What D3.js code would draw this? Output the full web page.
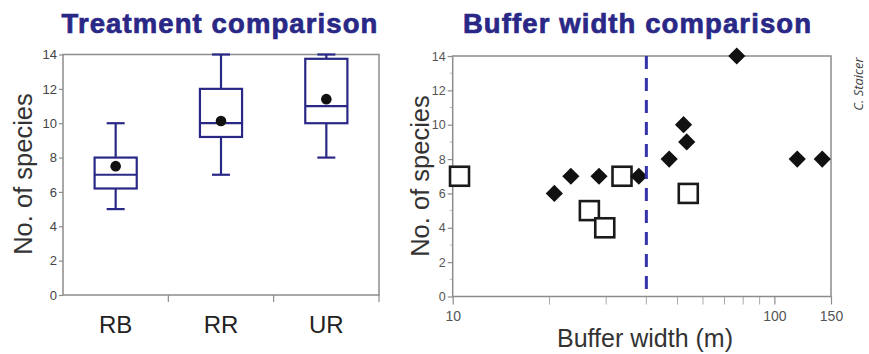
<!DOCTYPE html>
<html>
<head>
<meta charset="utf-8">
<script src="https://cdn.jsdelivr.net/npm/d3@7"></script>
<style>
  html, body { margin: 0; padding: 0; background: #fff; }
  svg { display: block; }
</style>
</head>
<body>
<svg id="chart" width="869" height="354"></svg>
<script>
/* Two panels: box plot of species by treatment, and a log-x scatter of
   species vs buffer width with a dashed 40 m reference line. */

// ---- data: treatment comparison (box plots) ----
var categories   = ['RB', 'RR', 'UR'];
var whiskerLow   = [5, 7, 8];
var q1           = [6.2, 9.2, 10];
var median       = [7, 10, 11];
var q3           = [8, 12, 13.75];
var whiskerHigh  = [10, 14, 14];
var means        = [7.5, 10.13, 11.4];

// ---- data: buffer width comparison (scatter) ----
var filledWidth   = [20.7, 23.3, 28.5, 37.9, 47.1, 52.2, 53.4, 76.4, 117.8, 140.9];
var filledSpecies = [6, 7, 7, 7, 8, 10, 9, 14, 8, 8];
var openWidth     = [10.5, 26.6, 29.7, 33.6, 54.0];
var openSpecies   = [7, 5, 4, 7, 6];
var thresholdWidth = 40;

// ---- ticks ----
var yTicks      = [0, 2, 4, 6, 8, 10, 12, 14];
var yMinorTicks = [1, 3, 5, 7, 9, 11, 13];
var xTickLabels = [10, 100, 150];
var xMinorTicks = [20, 30, 40, 50, 60, 70, 80, 90];

var NAVY = '#2a2886';
var FRAME = '#8c8c8c';
var SANS = '"Liberation Sans", Arial, sans-serif';

var svg = d3.select('#chart');
svg.append('rect').attr('width', 869).attr('height', 354).attr('fill', '#fff');

function title(cx, text) {
  svg.append('text')
    .attr('x', cx).attr('y', 33).attr('text-anchor', 'middle')
    .attr('font-family', SANS).attr('font-weight', 'bold')
    .attr('font-size', 27.5).attr('letter-spacing', 1.1)
    .attr('fill', NAVY).attr('stroke', NAVY).attr('stroke-width', 0.7)
    .text(text);
}

function yLabel(cx, cy) {
  svg.append('text')
    .attr('transform', 'translate(' + cx + ',' + cy + ') rotate(-90)')
    .attr('text-anchor', 'middle').attr('dominant-baseline', 'central')
    .attr('font-family', SANS).attr('font-size', 25.5).attr('fill', '#333')
    .text('No. of species');
}

function frame(x0, x1, y0, y1) {
  svg.append('rect')
    .attr('x', x0).attr('y', y0).attr('width', x1 - x0).attr('height', y1 - y0)
    .attr('fill', 'none').attr('stroke', FRAME).attr('stroke-width', 1.5);
}

/* ---- left panel ---------------------------------------------------------- */
(function () {
  var L = 63, R = 379, T = 54.5, B = 295;
  var x = d3.scaleBand().domain(categories).range([L, R]).padding(0);
  var y = d3.scaleLinear().domain([0, 14]).range([B, T]);

  title(220, 'Treatment comparison');
  yLabel(23, 174);

  var yAxis = d3.axisLeft(y).tickValues(yTicks).tickSize(4).tickPadding(2);
  var gy = svg.append('g').attr('transform', 'translate(' + L + ',0)').call(yAxis);
  gy.select('.domain').remove();
  gy.selectAll('line').attr('stroke', FRAME).attr('stroke-width', 1.2);
  gy.selectAll('text').attr('font-family', SANS).attr('font-size', 13).attr('fill', '#444');

  // category boundary ticks under the axis
  svg.append('g').selectAll('line')
    .data(categories.slice(1).concat(['end']))
    .join('line')
    .attr('x1', function (d, i) { return x(categories[0]) + (i + 1) * x.bandwidth(); })
    .attr('x2', function (d, i) { return x(categories[0]) + (i + 1) * x.bandwidth(); })
    .attr('y1', B).attr('y2', B + 7)
    .attr('stroke', FRAME).attr('stroke-width', 1.2);

  frame(L, R, T, B);

  svg.append('g').selectAll('text').data(categories).join('text')
    .attr('x', function (d) { return x(d) + x.bandwidth() / 2; })
    .attr('y', 333).attr('text-anchor', 'middle')
    .attr('font-family', SANS).attr('font-size', 24).attr('fill', '#222')
    .text(function (d) { return d; });

  var boxW = x.bandwidth() * 0.4, capW = 18;
  var g = svg.append('g').attr('stroke', NAVY).attr('stroke-width', 2.2).attr('fill', 'none');
  categories.forEach(function (c, i) {
    var cx = x(c) + x.bandwidth() / 2;
    g.append('line').attr('x1', cx).attr('x2', cx).attr('y1', y(whiskerLow[i])).attr('y2', y(q1[i]));
    g.append('line').attr('x1', cx).attr('x2', cx).attr('y1', y(q3[i])).attr('y2', y(whiskerHigh[i]));
    g.append('line').attr('x1', cx - capW / 2).attr('x2', cx + capW / 2)
      .attr('y1', y(whiskerLow[i])).attr('y2', y(whiskerLow[i]));
    g.append('line').attr('x1', cx - capW / 2).attr('x2', cx + capW / 2)
      .attr('y1', y(whiskerHigh[i])).attr('y2', y(whiskerHigh[i]));
    g.append('rect').attr('x', cx - boxW / 2).attr('width', boxW)
      .attr('y', y(q3[i])).attr('height', y(q1[i]) - y(q3[i])).attr('fill', '#fff');
    g.append('line').attr('x1', cx - boxW / 2).attr('x2', cx + boxW / 2)
      .attr('y1', y(median[i])).attr('y2', y(median[i]));
  });
  svg.append('g').selectAll('circle').data(means).join('circle')
    .attr('cx', function (d, i) { return x(categories[i]) + x.bandwidth() / 2; })
    .attr('cy', function (d) { return y(d); })
    .attr('r', 5.3).attr('fill', '#111');
})();

/* ---- right panel --------------------------------------------------------- */
(function () {
  var L = 452.7, R = 831, T = 56, B = 296.5;
  var x = d3.scaleLog().domain([10, 150]).range([L, R]);
  var y = d3.scaleLinear().domain([0, 14]).range([B, T]);

  title(637.5, 'Buffer width comparison');
  yLabel(420, 176);

  var yAxis = d3.axisLeft(y).tickValues(yTicks).tickSize(5).tickPadding(2);
  var gy = svg.append('g').attr('transform', 'translate(' + L + ',0)').call(yAxis);
  gy.select('.domain').remove();
  gy.selectAll('line').attr('stroke', FRAME).attr('stroke-width', 1.2);
  gy.selectAll('text').attr('font-family', SANS).attr('font-size', 12.5).attr('fill', '#555');
  svg.append('g').selectAll('line').data(yMinorTicks).join('line')
    .attr('x1', L - 3).attr('x2', L)
    .attr('y1', function (d) { return y(d); }).attr('y2', function (d) { return y(d); })
    .attr('stroke', '#bbb').attr('stroke-width', 1);

  var xAxis = d3.axisBottom(x).tickValues(xTickLabels).tickFormat(d3.format('d')).tickSize(8).tickPadding(7);
  var gx = svg.append('g').attr('transform', 'translate(0,' + B + ')').call(xAxis);
  gx.select('.domain').remove();
  gx.selectAll('line').attr('stroke', FRAME).attr('stroke-width', 1.2);
  gx.selectAll('text').attr('font-family', SANS).attr('font-size', 14).attr('fill', '#555');
  svg.append('g').selectAll('line').data(xMinorTicks).join('line')
    .attr('x1', function (d) { return x(d); }).attr('x2', function (d) { return x(d); })
    .attr('y1', B).attr('y2', B + 8)
    .attr('stroke', '#aaa').attr('stroke-width', 1);

  frame(L, R, T, B);

  svg.append('text')
    .attr('x', 645).attr('y', 347).attr('text-anchor', 'middle')
    .attr('font-family', SANS).attr('font-size', 25).attr('fill', '#333')
    .text('Buffer width (m)');

  // open squares (behind)
  var sq = 19;
  svg.append('g').selectAll('rect').data(openWidth).join('rect')
    .attr('x', function (d) { return x(d) - sq / 2; })
    .attr('y', function (d, i) { return y(openSpecies[i]) - sq / 2; })
    .attr('width', sq).attr('height', sq)
    .attr('fill', '#fff').attr('stroke', '#1a1a1a').attr('stroke-width', 2.6);

  // filled diamonds
  var dm = 8.6;
  svg.append('g').selectAll('path').data(filledWidth).join('path')
    .attr('d', function (d, i) {
      var cx = x(d), cy = y(filledSpecies[i]);
      return 'M' + cx + ',' + (cy - dm) + 'L' + (cx + dm) + ',' + cy +
             'L' + cx + ',' + (cy + dm) + 'L' + (cx - dm) + ',' + cy + 'Z';
    })
    .attr('fill', '#111');

  // dashed 40 m reference line on top
  svg.append('line')
    .attr('x1', x(thresholdWidth)).attr('x2', x(thresholdWidth))
    .attr('y1', T).attr('y2', B)
    .attr('stroke', '#3434a8').attr('stroke-width', 3)
    .attr('stroke-dasharray', '13 9');

  // photo credit
  svg.append('text')
    .attr('transform', 'translate(858,84) rotate(-90)')
    .attr('text-anchor', 'middle').attr('dominant-baseline', 'central')
    .attr('font-family', '"Open Sans", sans-serif').attr('font-style', 'italic')
    .attr('font-size', 13).attr('fill', '#444')
    .text('C. Staicer');
})();
</script>
</body>
</html>
